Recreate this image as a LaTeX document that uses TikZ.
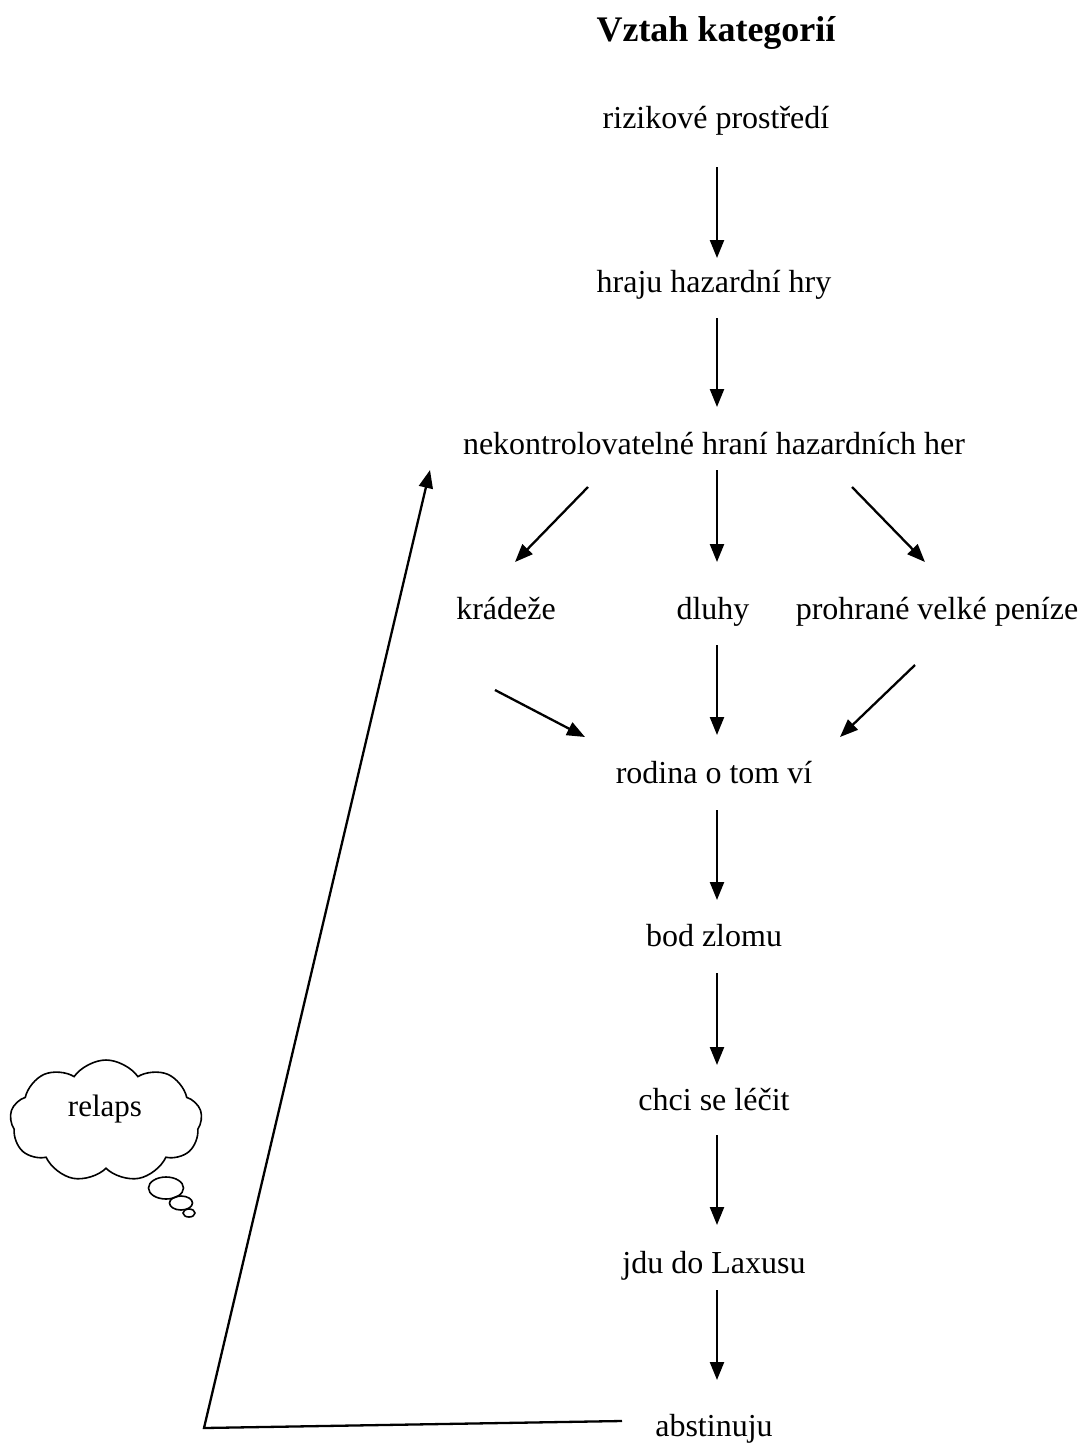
\documentclass[tikz,border=0pt]{standalone}
\usepackage{fontspec}
\setmainfont{Liberation Serif}
\usetikzlibrary{arrows.meta,shapes.symbols,shapes.geometric}
\begin{document}
\begin{tikzpicture}[x=1pt,y=-1pt,
  lbl/.style={anchor=base,inner sep=0pt,font=\fontsize{32}{38}\selectfont},
  ttl/.style={anchor=base,inner sep=0pt,font=\bfseries\fontsize{36}{42}\selectfont},
  arr/.style={line width=2.3pt,-{Triangle[length=18pt,width=14pt]}},
  bubble/.style={ellipse,draw,line width=1.6pt,inner sep=0pt}]
\useasboundingbox (0,0) rectangle (1083,1444);
\node[ttl] (title) at (716,41) {Vztah kategorií};
\node[lbl] (riz) at (716,128) {rizikové prostředí};
\node[lbl] (hr) at (714,292) {hraju hazardní hry};
\node[lbl] (nek) at (714,454) {nekontrolovatelné hraní hazardních her};
\node[lbl] (kr) at (506,619) {krádeže};
\node[lbl] (dl) at (713,619) {dluhy};
\node[lbl] (pro) at (937,619) {prohrané velké peníze};
\node[lbl] (rod) at (714,783) {rodina o tom ví};
\node[lbl] (bod) at (714,946) {bod zlomu};
\node[lbl] (chci) at (714,1110) {chci se léčit};
\node[lbl] (jdu) at (714,1273) {jdu do Laxusu};
\node[lbl] (abst) at (714,1436) {abstinuju};
% vertical chain
\draw[arr] ([xshift=1pt,yshift=-39pt]riz.base) -- ([xshift=3pt,yshift=34pt]hr.base);
\draw[arr] ([xshift=3pt,yshift=-26pt]hr.base) -- ([xshift=3pt,yshift=47pt]nek.base);
\draw[arr] ([xshift=3pt,yshift=-16pt]nek.base) -- ([xshift=4pt,yshift=57pt]dl.base);
\draw[arr] ([xshift=4pt,yshift=-26pt]dl.base) -- ([xshift=3pt,yshift=48pt]rod.base);
\draw[arr] ([xshift=3pt,yshift=-27pt]rod.base) -- ([xshift=3pt,yshift=46pt]bod.base);
\draw[arr] ([xshift=3pt,yshift=-27pt]bod.base) -- ([xshift=3pt,yshift=45pt]chci.base);
\draw[arr] ([xshift=3pt,yshift=-25pt]chci.base) -- ([xshift=3pt,yshift=48pt]jdu.base);
\draw[arr] ([xshift=3pt,yshift=-17pt]jdu.base) -- ([xshift=3pt,yshift=56pt]abst.base);
% diagonals
\draw[arr] ([xshift=-126pt,yshift=-33pt]nek.base) -- ([xshift=9pt,yshift=57pt]kr.base);
\draw[arr] ([xshift=138pt,yshift=-33pt]nek.base) -- ([xshift=-12pt,yshift=57pt]pro.base);
\draw[arr] ([xshift=-11pt,yshift=-71pt]kr.base) -- ([xshift=-129pt,yshift=46pt]rod.base);
\draw[arr] ([xshift=-22pt,yshift=-46pt]pro.base) -- ([xshift=126pt,yshift=46pt]rod.base);
% relapse loop
\coordinate (corner) at (204,1428);
\draw[arr] ([xshift=-92pt,yshift=15pt]abst.base) -- (corner) -- ([xshift=-284pt,yshift=-16pt]nek.base);
% thought cloud
\node[cloud,draw,line width=1.6pt,cloud puffs=9,cloud puff arc=110,aspect=1.6,
  minimum width=192pt,minimum height=122pt,inner sep=0pt] (cloud) at (106,1121) {};
\node[lbl,font=\fontsize{31}{36}\selectfont] (relaps) at (105,1116) {relaps};
\node[bubble,minimum width=35pt,minimum height=22pt] (b1) at (166,1188) {};
\node[bubble,minimum width=23pt,minimum height=14pt] (b2) at (181,1203) {};
\node[bubble,minimum width=12pt,minimum height=8pt] (b3) at (189,1213) {};
\end{tikzpicture}
\end{document}
